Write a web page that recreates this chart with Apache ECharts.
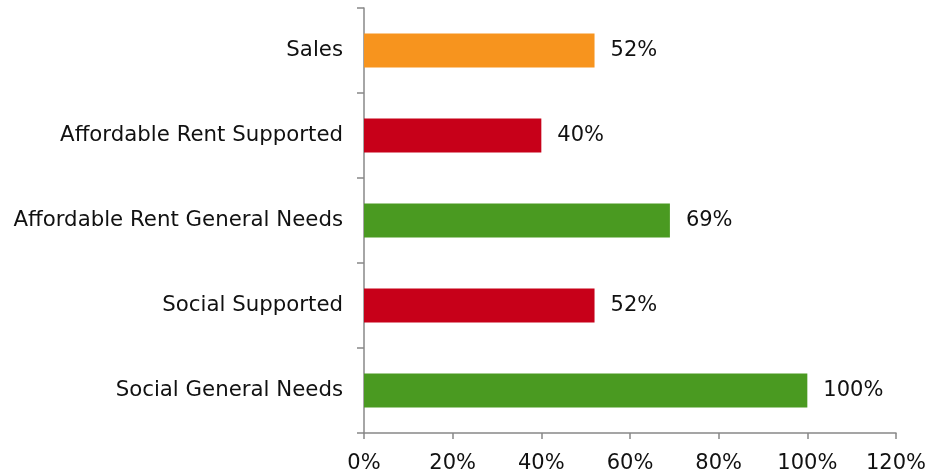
<!DOCTYPE html>
<html>
<head>
<meta charset="utf-8">
<script src="https://cdn.jsdelivr.net/npm/echarts@6/dist/echarts.min.js"></script>
<style>
html,body{margin:0;padding:0;background:#fff;}
#chart{width:930px;height:476px;}
</style>
</head>
<body>
<div id="chart"></div>
<script>
const categories = ["Social General Needs", "Social Supported", "Affordable Rent General Needs", "Affordable Rent Supported", "Sales"];
const values = [100, 52, 69, 40, 52];
const xTicks = [0, 20, 40, 60, 80, 100, 120];

const barColors = ["#4A9A21", "#C70019", "#4A9A21", "#C70019", "#F7941E"];
const font = "'DejaVu Sans', Verdana, sans-serif";

const chart = echarts.init(document.getElementById('chart'), null, {renderer: 'canvas'});
chart.setOption({
  animation: false,
  grid: {left: 364, right: 34, top: 8, bottom: 43, containLabel: false},
  xAxis: {
    type: 'value',
    min: xTicks[0],
    max: xTicks[xTicks.length - 1],
    interval: 20,
    axisLine: {show: true, lineStyle: {color: '#888', width: 1.5}},
    axisTick: {show: true, length: 6, lineStyle: {color: '#888', width: 1.5}},
    splitLine: {show: false},
    axisLabel: {color: '#111', fontFamily: font, fontSize: 21, margin: 20, formatter: v => v + '%'}
  },
  yAxis: {
    type: 'category',
    data: categories,
    axisLine: {show: true, lineStyle: {color: '#888', width: 1.5}},
    axisTick: {show: true, length: 7, lineStyle: {color: '#888', width: 1.5}},
    axisLabel: {color: '#111', fontFamily: font, fontSize: 21.3, margin: 21}
  },
  series: [{
    type: 'bar',
    data: values,
    barWidth: 34,
    itemStyle: {color: p => barColors[p.dataIndex]},
    label: {
      show: true,
      position: 'right',
      distance: 16,
      color: '#111',
      fontFamily: font,
      fontSize: 21,
      formatter: p => p.value + '%'
    }
  }]
});
</script>
</body>
</html>
